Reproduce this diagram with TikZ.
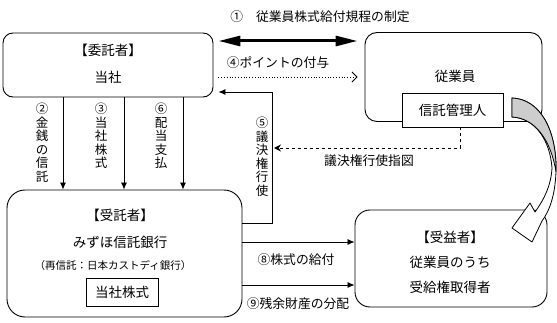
\documentclass[tikz,border=0pt]{standalone}
\usepackage{fontspec}
\setmainfont{Noto Sans CJK JP}
\usetikzlibrary{arrows.meta,positioning}
\definecolor{arrowGray}{RGB}{205,205,205}

\begin{document}
\begin{tikzpicture}[x=1pt,y=-1pt,>={Latex[length=7pt,width=6pt]},
  party/.style={draw,line width=0.9pt,inner sep=0pt},
  txt/.style={inner sep=0pt,font=\fontsize{13.5pt}{15pt}\selectfont},
  small/.style={inner sep=0pt,font=\fontsize{12.8pt}{14pt}\selectfont},
  tate/.style={inner sep=0pt,anchor=north,align=center,font=\fontsize{12.5pt}{13.5pt}\selectfont},
  arr/.style={->,line width=0.8pt}]
\useasboundingbox (0,0) rectangle (557,323);

% parties
\node[party,rounded corners=10pt,minimum width=210pt,minimum height=64pt] (itakusha) at (108,65) {};
\node[txt] (itakusha-t) at (108,50) {【委託者】};
\node[txt] (itakusha-n) at (108,77) {当社};

\node[party,rounded corners=12pt,minimum width=177pt,minimum height=89pt] (employee) at (453.5,77) {};
\node[txt] (employee-t) at (455,76) {従業員};
\node[party,fill=white,minimum width=101pt,minimum height=34pt] (kanri) at (452.5,110) {};
\node[txt] (kanri-t) at (452.5,110) {信託管理人};

\node[party,rounded corners=18pt,minimum width=235pt,minimum height=127pt] (jutakusha) at (124.5,253.5) {};
\node[txt] (jutakusha-t) at (120,215) {【受託者】};
\node[txt] (jutakusha-n) at (120,242) {みずほ信託銀行};
\node[inner sep=0pt,font=\fontsize{10.5pt}{12pt}\selectfont] (saishintaku) at (113,266) {（再信託：日本カストディ銀行）};
\node[party,minimum width=72pt,minimum height=28pt] (kabushiki) at (122,292) {};
\node[txt] (kabushiki-t) at (122,292) {当社株式};

\node[party,rounded corners=15pt,minimum width=192pt,minimum height=97pt] (jueki) at (451,258.5) {};
\node[txt] (jueki-t) at (450,237) {【受益者】};
\node[txt] (jueki-n1) at (450,262) {従業員のうち};
\node[txt] (jueki-n2) at (450,287) {受給権取得者};

% 1 and 4
\node[small] (kitei) at (320,17) {①\hspace{1em}従業員株式給付規程の制定};
\draw[{Triangle[length=22pt,width=10pt]}-{Triangle[length=22pt,width=10pt]},line width=3pt,shorten <=5pt,shorten >=7pt]
  (itakusha.east |- 0,41) -- (employee.west |- 0,41);
\node[small] (point) at (278,63) {④ポイントの付与};
\draw[dotted,line width=0.8pt,-{Straight Barb[length=5pt,width=10pt]},shorten <=5pt,shorten >=7pt]
  (itakusha.east |- 0,77) -- (employee.west |- 0,77);

% 2, 3, 6
\foreach \x in {63,124,183}
  \draw[arr] (itakusha.south -| \x,0) -- (jutakusha.north -| \x,0);
\node[tate] (kinsen) at (42,103) {②\\金\\銭\\の\\信\\託};
\node[tate] (toshakabu) at (101,103) {③\\当\\社\\株\\式};
\node[tate] (haito) at (161,103) {⑥\\配\\当\\支\\払};

% 5
\coordinate (giketsu) at (272,92);
\draw[arr,shorten >=5pt] (jutakusha.east |- 0,223) -| (giketsu) -- (itakusha.east |- giketsu);
\node[tate] (giketsu-t) at (262,117) {⑤\\議\\決\\権\\行\\使};
\draw[dashed,line width=0.8pt,-{Stealth[length=7pt,width=7pt]},shorten >=2pt]
  (kanri.south -| 460,0) |- (giketsu |- 0,148);
\node[small] (shizu) at (369,161) {議決権行使指図};

% 8, 9
\draw[arr] (jutakusha.east |- 0,242) -- (jueki.west |- 0,242);
\node[small] (kyufu) at (296,260) {⑧株式の給付};
\draw[arr] (jutakusha.east |- 0,285) -- (jueki.west |- 0,285);
\node[small] (zanyo) at (298,304) {⑨残余財産の分配};

% curved arrow
\draw[line width=0.8pt,fill=white,line join=round]
  (512,98) .. controls (540,99) and (557,130) .. (556,172)
  .. controls (555,195) and (550,210) .. (542,221)
  -- (532,242) -- (512,228) -- (530,203) -- (535,212)
  .. controls (545,198) and (551,185) .. (552,168)
  .. controls (550,140) and (535,118) .. (512,117) -- cycle;
\draw[line width=0.8pt,fill=arrowGray]
  (512,98) .. controls (540,99) and (557,130) .. (556,172)
  .. controls (551,140) and (535,118) .. (512,117) -- cycle;
\end{tikzpicture}
\end{document}
